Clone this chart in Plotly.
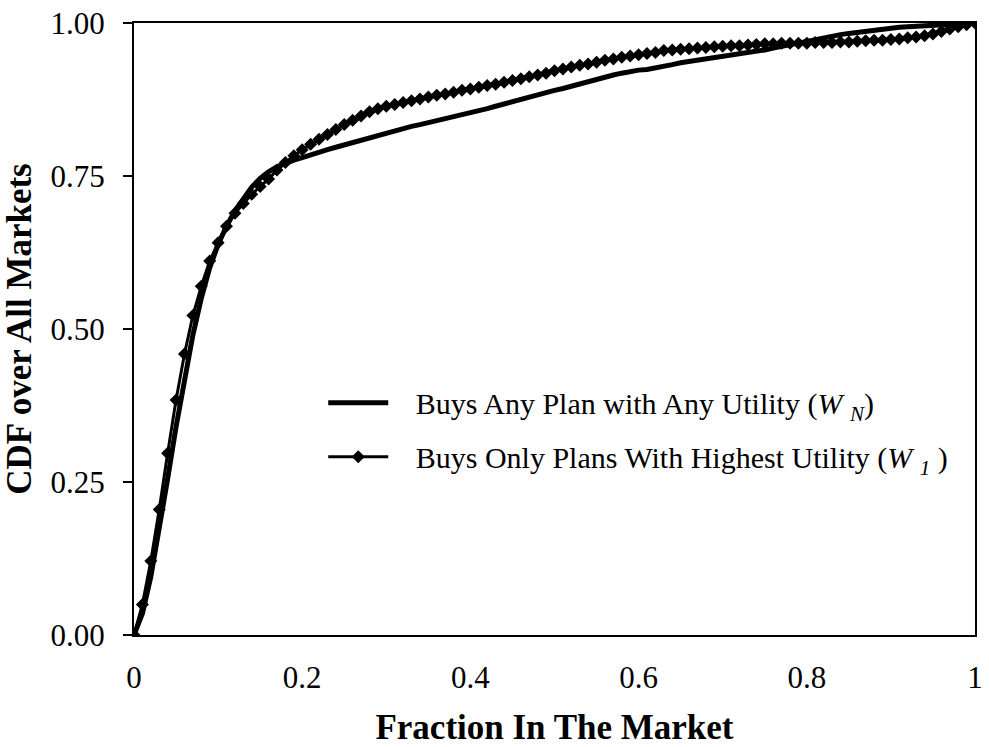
import plotly.graph_objects as go

# Fraction of the market (x) shared by both CDF curves
fraction = [round(i * 0.01, 2) for i in range(101)]

# CDF when consumers buy any plan with any utility (W_N)
cdf_any = [
    0.000, 0.035, 0.095, 0.170, 0.255, 0.340, 0.420, 0.490, 0.550, 0.600,
    0.638, 0.668, 0.693, 0.714, 0.732, 0.746, 0.757, 0.765, 0.771, 0.776,
    0.780, 0.785, 0.789, 0.793, 0.797, 0.801, 0.805, 0.809, 0.813, 0.817,
    0.821, 0.825, 0.828, 0.831, 0.834, 0.837, 0.840, 0.843, 0.846, 0.849,
    0.854, 0.857, 0.860, 0.864, 0.868, 0.872, 0.876, 0.880, 0.884, 0.887,
    0.890, 0.893, 0.897, 0.901, 0.905, 0.909, 0.912, 0.915, 0.918, 0.921,
    0.923, 0.924, 0.926, 0.929, 0.932, 0.935, 0.937, 0.940, 0.942, 0.944,
    0.946, 0.948, 0.950, 0.952, 0.954, 0.956, 0.959, 0.962, 0.965, 0.967,
    0.970, 0.973, 0.976, 0.978, 0.981, 0.983, 0.985, 0.987, 0.989, 0.990,
    0.992, 0.993, 0.994, 0.995, 0.996, 0.997, 0.998, 0.998, 0.999, 0.999,
    1.000,
]

# CDF when consumers buy only the plans with highest utility (W_1)
cdf_highest = [
    0.000, 0.050, 0.121, 0.205, 0.297, 0.384, 0.459, 0.522, 0.570, 0.611,
    0.641, 0.668, 0.689, 0.705, 0.720, 0.733, 0.745, 0.760, 0.772, 0.783,
    0.793, 0.802, 0.810, 0.818, 0.826, 0.834, 0.841, 0.848, 0.855, 0.860,
    0.864, 0.867, 0.870, 0.873, 0.876, 0.879, 0.882, 0.884, 0.887, 0.890,
    0.892, 0.895, 0.898, 0.900, 0.903, 0.906, 0.909, 0.912, 0.915, 0.918,
    0.922, 0.925, 0.928, 0.931, 0.933, 0.936, 0.939, 0.941, 0.944, 0.946,
    0.948, 0.950, 0.952, 0.955, 0.956, 0.957, 0.958, 0.959, 0.960, 0.961,
    0.962, 0.963, 0.963, 0.964, 0.965, 0.966, 0.966, 0.967, 0.967, 0.967,
    0.967, 0.968, 0.968, 0.968, 0.969, 0.969, 0.970, 0.971, 0.972, 0.972,
    0.973, 0.974, 0.976, 0.977, 0.979, 0.982, 0.986, 0.990, 0.994, 0.997,
    1.000,
]

x_ticks = [0, 0.2, 0.4, 0.6, 0.8, 1]
x_tick_text = ["0", "0.2", "0.4", "0.6", "0.8", "1"]
y_ticks = [0, 0.25, 0.5, 0.75, 1.0]
y_tick_text = ["0.00", "0.25", "0.50", "0.75", "1.00"]

FONT = "Liberation Serif, Times New Roman, serif"
PAD = "\u00a0\u00a0\u00a0"  # spacing between legend sample and label

fig = go.Figure()

fig.add_trace(go.Scatter(
    x=fraction, y=cdf_any, mode="lines",
    name=PAD + "Buys Any Plan with Any Utility (<i>W</i> <sub><i>N</i></sub>)",
    line=dict(color="black", width=5),
    legendgroup="a",
))

fig.add_trace(go.Scatter(
    x=fraction, y=cdf_highest, mode="lines+markers",
    name=PAD + "Buys Only Plans With Highest Utility (<i>W</i> <sub><i>1</i></sub> )",
    line=dict(color="black", width=3),
    marker=dict(symbol="diamond", size=10, color="black"),
    legendgroup="b",
))

axis_common = dict(
    showline=True, linecolor="black", linewidth=2, mirror=True,
    showgrid=False, zeroline=False,
    tickfont=dict(family=FONT, size=31, color="black"),
)

fig.update_layout(
    width=989, height=747,
    paper_bgcolor="white", plot_bgcolor="white",
    margin=dict(l=134, r=6, t=22, b=106),
    font=dict(family=FONT, color="black"),
    xaxis=dict(
        range=[0, 1], tickvals=x_ticks, ticktext=x_tick_text,
        ticks="", ticklabelstandoff=14,
        title=dict(text="<b>Fraction In The Market</b>",
                   font=dict(family=FONT, size=35, color="black"), standoff=21),
        **axis_common,
    ),
    yaxis=dict(
        range=[0, 1], tickvals=y_ticks, ticktext=y_tick_text,
        ticks="outside", ticklen=9, tickwidth=2, tickcolor="black",
        ticklabelstandoff=12,
        title=dict(text="<b>CDF over All Markets</b>",
                   font=dict(family=FONT, size=35, color="black"), standoff=8),
        **axis_common,
    ),
    legend=dict(
        x=0.225, y=0.422, xanchor="left", yanchor="top",
        bgcolor="rgba(0,0,0,0)",
        font=dict(family=FONT, size=30, color="black"),
        traceorder="grouped", tracegroupgap=12,
        itemwidth=60,
    ),
)

fig.write_html("out.html")
